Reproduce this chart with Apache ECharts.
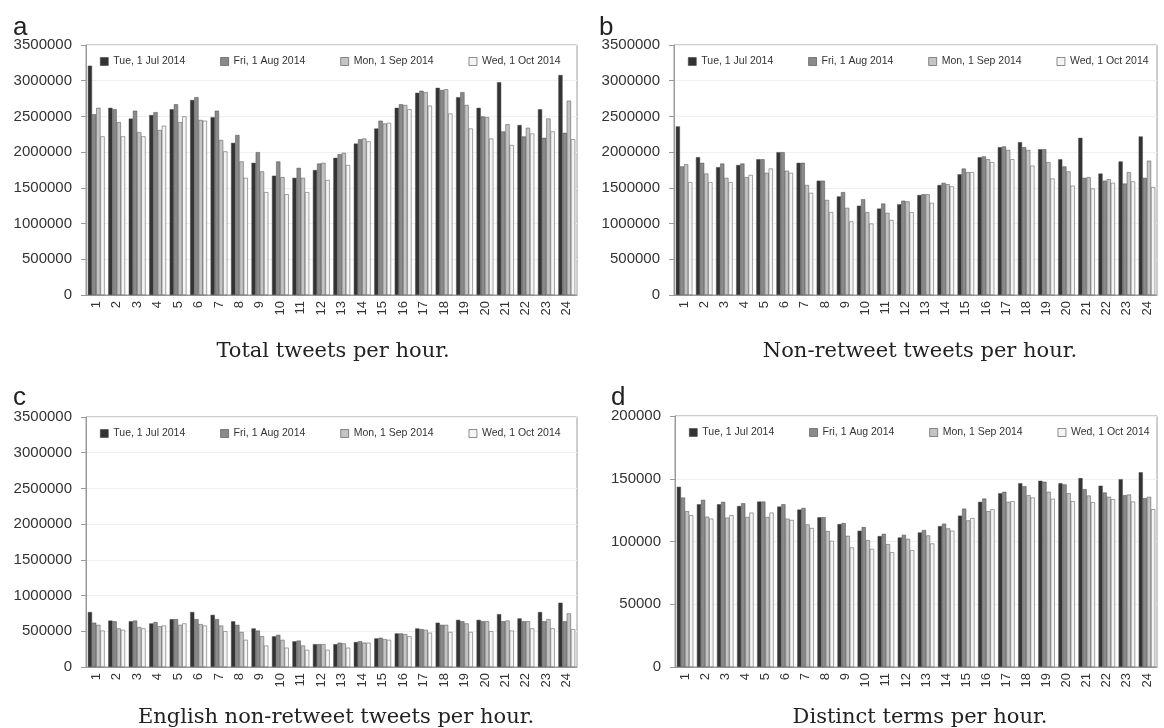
<!DOCTYPE html>
<html><head><meta charset="utf-8">
<script src="https://cdn.jsdelivr.net/npm/echarts@6/dist/echarts.min.js"></script>
<style>html,body{margin:0;padding:0;background:#fff}#c{width:1164px;height:728px}</style>
</head><body><div id="c"></div>
<script>
const hours = ['1','2','3','4','5','6','7','8','9','10','11','12','13','14','15','16','17','18','19','20','21','22','23','24'];
const seriesNames = ['Tue, 1 Jul 2014','Fri, 1 Aug 2014','Mon, 1 Sep 2014','Wed, 1 Oct 2014'];
const panelLetters = ['a','b','c','d'];
const captions = ['Total tweets per hour.','Non-retweet tweets per hour.','English non-retweet tweets per hour.','Distinct terms per hour.'];

// a: total tweets per hour
const totalJul = [3210000,2620000,2470000,2520000,2600000,2730000,2490000,2130000,1850000,1670000,1640000,1750000,1920000,2120000,2330000,2620000,2830000,2900000,2770000,2620000,2980000,2380000,2600000,3080000];
const totalAug = [2530000,2600000,2580000,2560000,2670000,2770000,2580000,2240000,2000000,1870000,1780000,1840000,1970000,2180000,2440000,2670000,2860000,2870000,2840000,2500000,2290000,2220000,2200000,2270000];
const totalSep = [2620000,2420000,2280000,2310000,2420000,2450000,2170000,1870000,1730000,1650000,1640000,1850000,1990000,2190000,2400000,2660000,2840000,2880000,2660000,2490000,2390000,2340000,2470000,2720000];
const totalOct = [2220000,2220000,2220000,2370000,2500000,2440000,2010000,1640000,1440000,1410000,1440000,1610000,1820000,2150000,2410000,2600000,2650000,2540000,2330000,2190000,2100000,2260000,2290000,2180000];

// b: non-retweet tweets per hour
const nonrtJul = [2360000,1930000,1790000,1820000,1900000,2000000,1850000,1600000,1380000,1250000,1210000,1270000,1400000,1540000,1690000,1930000,2070000,2140000,2040000,1900000,2200000,1700000,1870000,2220000];
const nonrtAug = [1800000,1850000,1840000,1840000,1900000,2000000,1850000,1600000,1440000,1340000,1280000,1320000,1410000,1570000,1770000,1940000,2080000,2070000,2040000,1800000,1640000,1600000,1560000,1640000];
const nonrtSep = [1830000,1700000,1640000,1650000,1710000,1740000,1540000,1330000,1220000,1160000,1150000,1310000,1410000,1550000,1720000,1900000,2030000,2030000,1860000,1730000,1650000,1620000,1720000,1880000];
const nonrtOct = [1580000,1580000,1580000,1680000,1770000,1710000,1430000,1160000,1030000,1000000,1050000,1160000,1290000,1520000,1720000,1860000,1900000,1810000,1630000,1530000,1490000,1570000,1590000,1510000];

// c: English non-retweet tweets per hour
const engJul = [770000,650000,640000,610000,670000,770000,730000,640000,540000,430000,360000,320000,320000,350000,400000,470000,540000,620000,660000,660000,740000,680000,770000,900000];
const engAug = [620000,640000,650000,630000,670000,670000,670000,590000,510000,450000,370000,320000,340000,360000,410000,470000,530000,590000,640000,640000,640000,640000,640000,640000];
const engSep = [590000,540000,560000,570000,590000,600000,580000,490000,430000,380000,300000,320000,330000,340000,390000,460000,520000,590000,610000,640000,650000,640000,670000,750000];
const engOct = [510000,520000,540000,580000,610000,580000,500000,380000,300000,270000,240000,240000,270000,340000,380000,430000,480000,490000,490000,500000,510000,540000,540000,530000];

// d: distinct terms per hour
const termsJul = [143600,129700,129700,128300,131800,127800,125400,119300,113900,108600,104300,103200,107200,112300,120600,131600,138500,146500,148400,146500,150500,144400,149700,155100];
const termsAug = [135000,133200,131600,130500,131800,129700,126700,119300,114700,111500,106100,105300,109100,114200,126200,134200,139600,144100,147600,145500,141700,139000,136900,134500];
const termsSep = [124100,119800,119000,119500,119500,118200,113600,108300,104500,101100,97900,102100,104800,110400,116800,124100,131600,136900,139600,138500,136600,135600,137400,135600];
const termsOct = [120900,118200,120900,123000,123000,117100,110700,100500,95200,94100,91400,93000,98400,108600,118700,125700,132100,135000,134000,132100,131300,133700,131800,125700];

const yMaxes = [3500000,3500000,3500000,200000];
const yIntervals = [500000,500000,500000,50000];

const panelData = [
  [totalJul,totalAug,totalSep,totalOct],
  [nonrtJul,nonrtAug,nonrtSep,nonrtOct],
  [engJul,engAug,engSep,engOct],
  [termsJul,termsAug,termsSep,termsOct]
];

const colors = ['#333333','#8a8a8a','#c4c4c4','#f4f4f4'];
const grids = [
  {left:86, top:45, width:491, height:250},
  {left:674, top:45, width:483, height:250},
  {left:86, top:417, width:491, height:250},
  {left:675, top:416, width:482, height:251}
];

const chart = echarts.init(document.getElementById('c'));
const option = {
  backgroundColor:'#fff',
  animation:false,
  color: colors,
  title: [],
  legend: [],
  grid: grids.map(g => Object.assign({show:true, borderColor:'#9a9a9a', borderWidth:1, containLabel:false}, g)),
  xAxis: [], yAxis: [], series: []
};
const letterPos = [[8,10],[594,10],[8,380],[606,380]];
const captionPos = [[328,336],[915,336],[331,702],[915,702]];
for (let p=0;p<4;p++){
  const g = grids[p];
  option.title.push({text:panelLetters[p], left:letterPos[p][0], top:letterPos[p][1],
    textStyle:{fontFamily:'Liberation Sans', fontSize:26, fontWeight:'normal', color:'#222'}});
  option.title.push({text:captions[p], left:captionPos[p][0], top:captionPos[p][1], textAlign:'center',
    textStyle:{fontFamily:'DejaVu Serif', fontSize:21, fontWeight:'normal', color:'#222'}});
  option.legend.push({data:seriesNames, left:g.left+14, top:g.top+11, width:540, orient:'horizontal',
    itemWidth:8, itemHeight:8, itemGap:35, icon:'rect', padding:0,
    textStyle:{fontFamily:'Liberation Sans', fontSize:10.5, color:'#333'},
    itemStyle:{borderColor:'#444', borderWidth:0.6}});
  option.xAxis.push({type:'category', gridIndex:p, data:hours,
    axisLine:{show:true, lineStyle:{color:'#9a9a9a'}}, axisTick:{show:false},
    axisLabel:{rotate:90, fontFamily:'Liberation Sans', fontSize:13, color:'#333', margin:6, interval:0}});
  option.yAxis.push({type:'value', gridIndex:p, min:0, max:yMaxes[p], interval:yIntervals[p],
    axisLine:{show:true, lineStyle:{color:'#9a9a9a'}}, axisTick:{show:true, length:5, lineStyle:{color:'#9a9a9a'}},
    splitLine:{show:true, lineStyle:{color:'#f0f0f0'}},
    axisLabel:{fontFamily:'Liberation Sans', fontSize:15, color:'#333', margin:14, formatter: v => String(v)}});
  for (let s=0;s<4;s++){
    option.series.push({type:'bar', name:seriesNames[s], xAxisIndex:p, yAxisIndex:p,
      data:panelData[p][s], barGap:'0%', barCategoryGap:'18%',
      itemStyle:{color:colors[s], borderColor:'#4a4a4a', borderWidth:0.5}});
  }
}
chart.setOption(option);
</script></body></html>
